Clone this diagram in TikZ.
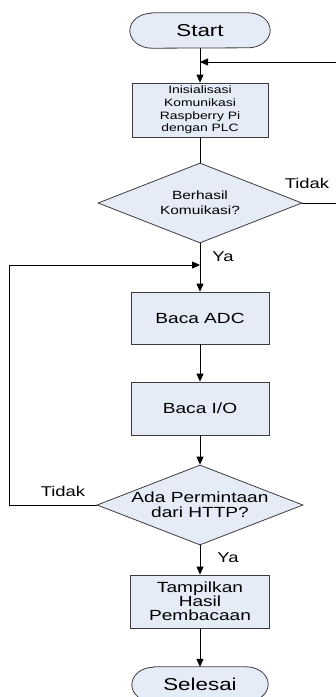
\documentclass[tikz,border=0pt]{standalone}
\usepackage{fontspec}
\setmainfont{Liberation Sans}[FakeStretch=1.3]
\usetikzlibrary{arrows.meta,shapes.geometric,backgrounds}
\definecolor{boxfill}{RGB}{230,236,247}
\definecolor{boxline}{RGB}{60,60,60}
\newcommand\termshape[1]{%
  \begin{scope}[on background layer]
    \draw[boxline,fill=boxfill,line width=0.8pt]
      ([xshift=22pt]#1.north west) -- ([xshift=-22pt]#1.north east)
      arc[start angle=90,end angle=-90,x radius=22pt,y radius=17.5pt]
      -- ([xshift=22pt]#1.south west)
      arc[start angle=270,end angle=90,x radius=22pt,y radius=17.5pt] -- cycle;
  \end{scope}}
\begin{document}
\begin{tikzpicture}[x=1pt,y=-1pt,
  termnode/.style={minimum width=140pt,minimum height=35pt,inner sep=0pt,
    font=\fontsize{17.2}{20}\selectfont},
  procbox/.style={draw=boxline,fill=boxfill,line width=0.8pt,inner sep=0pt,
    minimum width=138pt,minimum height=53pt,align=center,
    font=\fontsize{14.7}{14.2}\selectfont},
  decbox/.style={draw=boxline,fill=boxfill,line width=0.8pt,shape=diamond,
    inner xsep=-30pt,inner ysep=0pt,shape aspect=2.575,
    minimum width=205pt,minimum height=80pt,align=center,
    font=\fontsize{14.7}{15.3}\selectfont},
  conn/.style={black,line width=0.8pt},
  arr/.style={conn,-{Triangle[length=8pt,width=7pt]}},
  lbl/.style={inner sep=0pt,font=\fontsize{14.2}{16}\selectfont}]
\useasboundingbox (0,0) rectangle (336,697);
\clip (0,0) rectangle (336,697);

\node[termnode] (start) at (200,30.5) {Start};
\termshape{start}
\node[procbox,minimum width=136pt,minimum height=54pt,
  font=\fontsize{10.7}{12.6}\selectfont] (init) at (200,110)
  {Inisialisasi\\Komunikasi\\Raspberry Pi\\dengan PLC};
\node[decbox,minimum width=204pt,font=\fontsize{11.9}{15}\selectfont]
  (dec1) at (200,203) {Berhasil\\Komuikasi?};
\node[procbox,minimum height=52pt] (adc) at (200,318) {Baca ADC};
\node[procbox] (io) at (200,408.5) {Baca I/O};
\node[decbox,minimum width=206pt] (dec2) at (200,505) {Ada Permintaan\\dari HTTP?};
\node[procbox,minimum width=139pt] (show) at (200,601.5) {Tampilkan\\Hasil\\Pembacaan};
\node[termnode,minimum width=136pt] (finish) at (200,684.5) {Selesai};
\termshape{finish}

\coordinate (j1) at (200,62);
\coordinate (j2) at (200,265);
\coordinate (rx) at (346,0);
\coordinate (lx) at (9,0);

\node[lbl] (tidak1) at (307,183) {Tidak};
\node[lbl] (ya1) at (223,257) {Ya};
\node[lbl] (tidak2) at (63,491) {Tidak};
\node[lbl] (ya2) at (228,558) {Ya};

\draw[arr] (start) -- (init);
\draw[conn] (init) -- (dec1);
\draw[arr] (dec1.east) -- (dec1.east -| rx) |- (j1);
\draw[arr] (dec1.south) -- (adc.north);
\draw[arr] (dec2.west) -- (dec2.west -| lx) |- (j2);
\draw[arr] (adc) -- (io);
\draw[arr] (io) -- (dec2);
\draw[arr] (dec2.south) -- (show.north);
\draw[arr] (show) -- (finish);
\end{tikzpicture}
\end{document}
